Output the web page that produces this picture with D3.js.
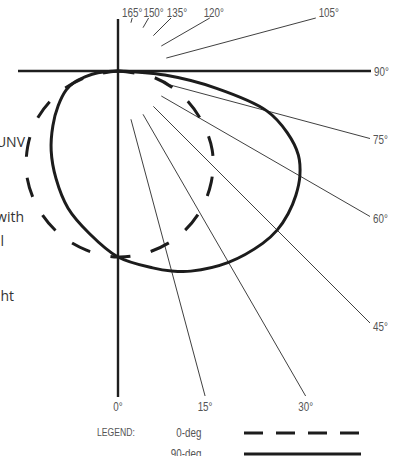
<!DOCTYPE html>
<html>
<head>
<meta charset="utf-8">
<script src="https://cdn.jsdelivr.net/npm/d3@7"></script>
<style>
html, body { margin: 0; padding: 0; background: #fff; }
svg { display: block; }
.lbl { font-family: "Liberation Sans", Arial, sans-serif; font-size: 12px; fill: #555; }
.note { font-family: "Open Sans", sans-serif; font-size: 14px; fill: #333; }
</style>
</head>
<body>
<svg id="chart" width="397" height="456"></svg>
<script>
// 90-deg plane (solid): angle from nadir (deg), relative intensity (% of nadir)
const angles90 = [-90, -85, -80, -75, -70, -60, -50, -40, -30, -20, -10, 0, 10, 15, 20, 30, 40, 45, 50, 55, 60, 65, 70, 75, 80, 85, 90];
const values90 = [0, 10.8, 17.7, 24.7, 29.6, 37.1, 45.7, 55.9, 66.7, 78.5, 88.7, 100, 107.5, 111.3, 114.5, 118.8, 121, 121, 119.4, 116.7, 112.9, 107, 96.8, 82.8, 53.8, 25.3, 0];

// 0-deg plane (dashed)
const angles0 = [-90, -80, -70, -60, -50, -40, -30, -20, -10, 0, 10, 20, 30, 40, 50, 60, 70, 80, 90];
const values0 = [0, 16.1, 33.3, 49.5, 63.4, 75.8, 85.5, 93, 97.8, 100, 98.7, 94.6, 87.6, 78, 66.1, 51.1, 35.5, 19.4, 0];

// radial guide lines and their labels
const spokeAngles = [15, 30, 45, 60, 75, 105, 120, 135, 150, 165];
const labelAngles = [0, 15, 30, 45, 60, 75, 90, 105, 120, 135, 150, 165];

const legendNames = ["0-deg", "90-deg"];

const svg = d3.select("#chart");
const cx = 118, cy = 71;               // pole of the polar grid
const box = {left: 18, right: 370, top: 18, bottom: 396};
const narrow = 0.82;                   // condensed look for the labels

const r = d3.scaleLinear().domain([0, 100]).range([0, 186]);
const rad = d => d * Math.PI / 180;

// where a ray from the pole hits the frame
function rayEnd(deg) {
    const sx = Math.sin(rad(deg)), sy = Math.cos(rad(deg));
    let t = Infinity;
    if (sx > 1e-6) t = Math.min(t, (box.right - cx) / sx);
    if (sy > 1e-6) t = Math.min(t, (box.bottom - cy) / sy);
    if (sy < -1e-6) t = Math.min(t, (cy - box.top) / -sy);
    return {x: cx + t * sx, y: cy + t * sy, dx: sx, dy: sy};
}

function label(parent, text, x, y, anchor, size) {
    return parent.append("text")
        .attr("class", "lbl")
        .attr("transform", "translate(" + x + "," + y + ") scale(" + narrow + ",1)")
        .attr("text-anchor", anchor || "start")
        .style("font-size", size ? size + "px" : null)
        .text(text);
}

const g = svg.append("g");

// thin spokes, starting 50px out from the pole
g.selectAll(".spoke")
    .data(spokeAngles)
    .enter().append("line")
    .attr("class", "spoke")
    .attr("x1", d => cx + 50 * Math.sin(rad(d)))
    .attr("y1", d => cy + 50 * Math.cos(rad(d)))
    .attr("x2", d => rayEnd(d).x)
    .attr("y2", d => rayEnd(d).y)
    .attr("stroke", "#2a2a2a")
    .attr("stroke-width", 0.9);

// main axes (0 and 90 deg)
g.append("line")
    .attr("x1", cx).attr("y1", box.top + 1)
    .attr("x2", cx).attr("y2", box.bottom + 1)
    .attr("stroke", "#1e1e1e").attr("stroke-width", 2.4);
g.append("line")
    .attr("x1", box.left).attr("y1", cy)
    .attr("x2", box.right + 1).attr("y2", cy)
    .attr("stroke", "#1e1e1e").attr("stroke-width", 2.4);

// curves
const radial = d3.lineRadial()
    .angle(d => Math.PI - rad(d[0]))
    .radius(d => r(d[1]))
    .curve(d3.curveCatmullRom.alpha(0.5));

const plot = g.append("g").attr("transform", "translate(" + cx + "," + cy + ")");

plot.append("path")
    .datum(d3.zip(angles90, values90))
    .attr("d", radial)
    .attr("fill", "none")
    .attr("stroke", "#1c1c1c")
    .attr("stroke-width", 3);

const dashed = plot.append("path")
    .datum(d3.zip(angles0, values0))
    .attr("d", radial)
    .attr("fill", "none")
    .attr("stroke", "#1c1c1c")
    .attr("stroke-width", 3);

// 13 dashes, first one starting ~36px from the pole, last ending ~38px before it
const len = dashed.node().getTotalLength();
const period = (len - 74) / 12.49;
dashed.attr("stroke-dasharray", (0.49 * period) + "," + (0.51 * period))
    .attr("stroke-dashoffset", period - 36);

// angle labels
const topNudge = {105: 13, 120: 4, 135: 6, 150: 5, 165: 0};
labelAngles.forEach(a => {
    const e = a === 0 ? {x: cx, y: box.bottom + 1, dx: 0, dy: 1}
            : a === 90 ? {x: box.right + 1, y: cy, dx: 1, dy: 0}
            : rayEnd(a);
    const txt = a + "\u00b0";
    if (a <= 30) {
        label(g, txt, e.x, 411, "middle");
    } else if (a <= 90) {
        label(g, txt, e.x + 3, e.y + 4.5 * e.dy + 4.5);
    } else {
        label(g, txt, e.x + topNudge[a], 17, "middle");
    }
});

// text running in from the left edge of the page
const notes = [
    {text: "UNV", x: 25, y: 147},
    {text: "with", x: 24, y: 222},
    {text: "l", x: 4, y: 246},
    {text: "ht", x: 14, y: 301}
];
svg.selectAll(".note")
    .data(notes)
    .enter().append("text")
    .attr("class", "note")
    .attr("x", d => d.x)
    .attr("y", d => d.y)
    .attr("text-anchor", "end")
    .text(d => d.text);

// legend
const lg = svg.append("g");
label(lg, "LEGEND:", 97, 436, "start", 10.5);
legendNames.forEach((name, i) => {
    const y = 433 + i * 21;
    label(lg, name, 201.5, y + 3.5, "end");
    lg.append("line")
        .attr("x1", 244).attr("x2", i === 0 ? 359 : 361)
        .attr("y1", y).attr("y2", y)
        .attr("stroke", "#1c1c1c")
        .attr("stroke-width", 3)
        .attr("stroke-dasharray", i === 0 ? "19,13" : null);
});
</script>
</body>
</html>
